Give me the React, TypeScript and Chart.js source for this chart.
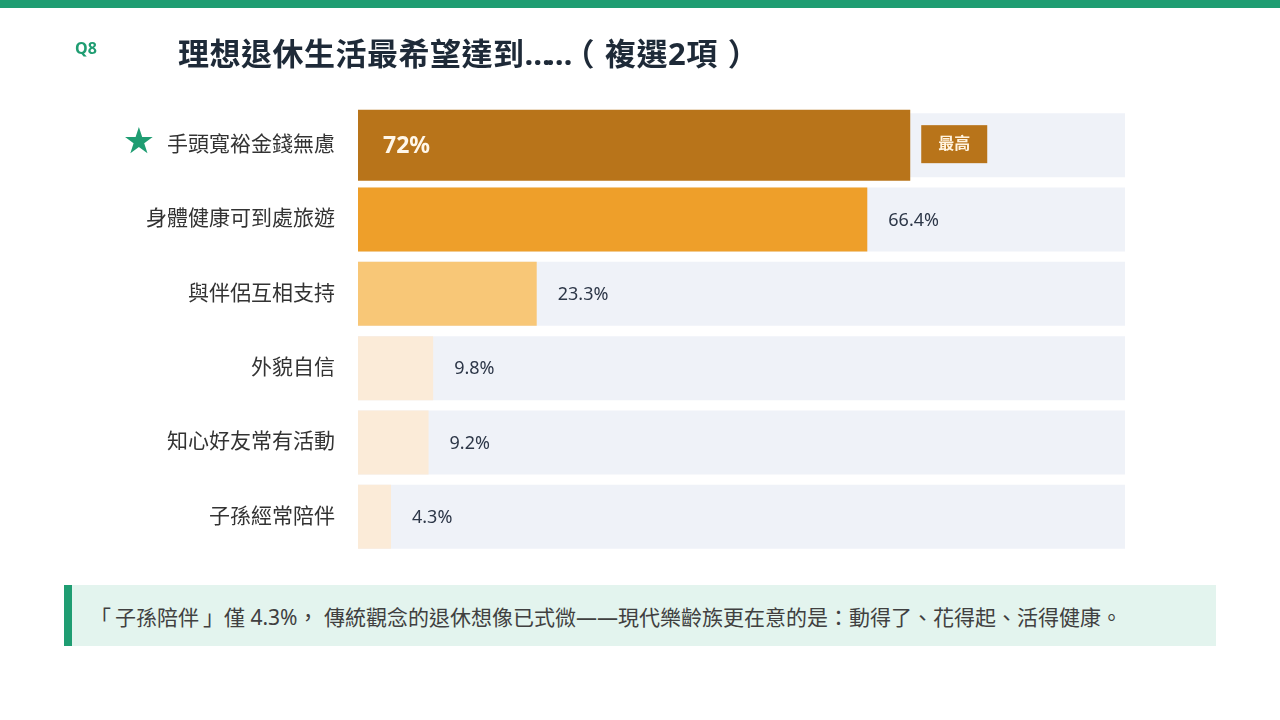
import React, { useEffect, useRef } from 'react';
import { Chart, registerables } from 'chart.js';

Chart.register(...registerables);

const categories = ['手頭寬裕金錢無慮', '身體健康可到處旅遊', '與伴侶互相支持', '外貌自信', '知心好友常有活動', '子孫經常陪伴'];
const values = [72, 66.4, 23.3, 9.8, 9.2, 4.3];
const trackValues = categories.map(() => 100);
const barColors = ['#B8741A', '#EE9F2A', '#F8C777', '#FBEBD8', '#FBEBD8', '#FBEBD8'];
const highlightIndex = 0;
const badgeText = '最高';
const axisMax = 100;

const qLabel = 'Q8';
const titleMain = '理想退休生活最希望達到';
const titleDots = '……';
const titleSub = '複選2項';
const noteQuote = '子孫陪伴';
const noteRest = '僅 4.3%， 傳統觀念的退休想像已式微——現代樂齡族更在意的是：動得了、花得起、活得健康。';

const FONT = '"Noto Sans", "Noto Sans CJK TC", sans-serif';
const GREEN = '#1F9D72';
const LABEL_SIZE = 21;

const labelPlugin = {
  id: 'valueLabels',
  afterDatasetsDraw(chart: any) {
    const ctx = chart.ctx;
    const xScale = chart.scales.x;
    const yScale = chart.scales.y;
    ctx.save();
    ctx.textBaseline = 'middle';
    values.forEach((v, i) => {
      const y = yScale.getPixelForValue(i);
      const x0 = xScale.getPixelForValue(0);
      const xEnd = xScale.getPixelForValue(v);
      if (i === highlightIndex) {
        ctx.font = `bold 23px ${FONT}`;
        ctx.fillStyle = '#FFF7EA';
        ctx.textAlign = 'left';
        ctx.fillText(`${v}%`, x0 + 25, y + 1);
        const bw = 66;
        const bh = 38;
        const bx = xEnd + 11;
        ctx.fillStyle = barColors[i];
        ctx.fillRect(bx, y - bh / 2 - 1, bw, bh);
        ctx.fillStyle = '#FFF3DF';
        ctx.font = `bold 16px ${FONT}`;
        ctx.textAlign = 'center';
        ctx.fillText(badgeText, bx + bw / 2, y - 1);
      } else {
        ctx.font = `18px ${FONT}`;
        ctx.fillStyle = '#2D3748';
        ctx.textAlign = 'left';
        ctx.fillText(`${v}%`, xEnd + 21, y + 1);
      }
    });
    // star before highlighted label
    const yH = yScale.getPixelForValue(highlightIndex);
    ctx.font = `${LABEL_SIZE}px ${FONT}`;
    const w = ctx.measureText(categories[highlightIndex]).width;
    const labelRight = yScale.right - 23;
    ctx.font = `36px "DejaVu Sans", ${FONT}`;
    ctx.fillStyle = GREEN;
    ctx.textAlign = 'right';
    ctx.fillText('★', labelRight - w - 12, yH - 2);
    ctx.restore();
  },
};

function BarChart() {
  const ref = useRef<HTMLCanvasElement | null>(null);
  useEffect(() => {
    if (!ref.current) return;
    const chart = new Chart(ref.current, {
      type: 'bar',
      data: {
        labels: categories,
        datasets: [
          {
            label: 'highlight',
            data: values.map((v, i) => (i === highlightIndex ? v : null)),
            backgroundColor: barColors,
            barPercentage: 0.955,
            categoryPercentage: 1,
            grouped: false,
            order: 0,
          },
          {
            label: 'values',
            data: values.map((v, i) => (i === highlightIndex ? null : v)),
            backgroundColor: barColors,
            barPercentage: 0.861,
            categoryPercentage: 1,
            grouped: false,
            order: 1,
          },
          {
            label: 'track',
            data: trackValues,
            backgroundColor: '#EFF2F8',
            barPercentage: 0.861,
            categoryPercentage: 1,
            grouped: false,
            order: 2,
          },
        ] as any,
      },
      options: {
        indexAxis: 'y',
        animation: false,
        responsive: false,
        devicePixelRatio: 1,
        layout: { padding: { left: 0, top: 108, right: 155, bottom: 166 } },
        plugins: { legend: { display: false }, tooltip: { enabled: false } },
        scales: {
          x: { display: false, min: 0, max: axisMax },
          y: {
            grid: { display: false, drawTicks: false },
            border: { display: false },
            ticks: {
              autoSkip: false,
              padding: 23,
              color: '#333333',
              font: { size: LABEL_SIZE, family: FONT },
            },
            afterFit: (scale: any) => {
              scale.width = 358;
            },
          },
        },
      } as any,
      plugins: [labelPlugin],
    });
    return () => chart.destroy();
  }, []);
  return (
    <canvas
      ref={ref}
      width={1280}
      height={720}
      style={{ position: 'absolute', left: 0, top: 0, width: 1280, height: 720 }}
    />
  );
}

export default function App() {
  return (
    <div
      style={{
        position: 'fixed',
        left: 0,
        top: 0,
        width: 1280,
        height: 720,
        background: '#FFFFFF',
        overflow: 'hidden',
        fontFamily: FONT,
      }}
    >
      <div style={{ position: 'absolute', left: 0, top: 0, width: 1280, height: 8, background: GREEN }} />
      <BarChart />
      <div
        style={{
          position: 'absolute',
          left: 75,
          top: 38,
          lineHeight: '20px',
          fontSize: 16,
          fontWeight: 700,
          color: GREEN,
        }}
      >
        {qLabel}
      </div>
      <div
        style={{
          position: 'absolute',
          left: 178,
          top: 33,
          lineHeight: '40px',
          fontSize: 31,
          letterSpacing: '0.5px',
          fontWeight: 700,
          color: '#1E2A38',
          whiteSpace: 'nowrap',
        }}
      >
        {titleMain}
        <span style={{ letterSpacing: '-5px' }}>{titleDots}</span>
        <span style={{ marginLeft: -4, marginRight: 10 }}>（</span>
        {titleSub}
        <span style={{ marginLeft: 10 }}>）</span>
      </div>
      <div
        style={{
          position: 'absolute',
          left: 64,
          top: 585,
          width: 1126,
          height: 61,
          background: '#E3F4EE',
          borderLeft: `8px solid ${GREEN}`,
          display: 'flex',
          alignItems: 'center',
          paddingLeft: 18,
          boxSizing: 'content-box',
          fontSize: 21,
          color: '#404040',
          whiteSpace: 'nowrap',
        }}
      >
        <span style={{ marginRight: 4 }}>「</span>
        {noteQuote}
        <span style={{ marginLeft: 4 }}>」</span>
        {noteRest}
      </div>
    </div>
  );
}
